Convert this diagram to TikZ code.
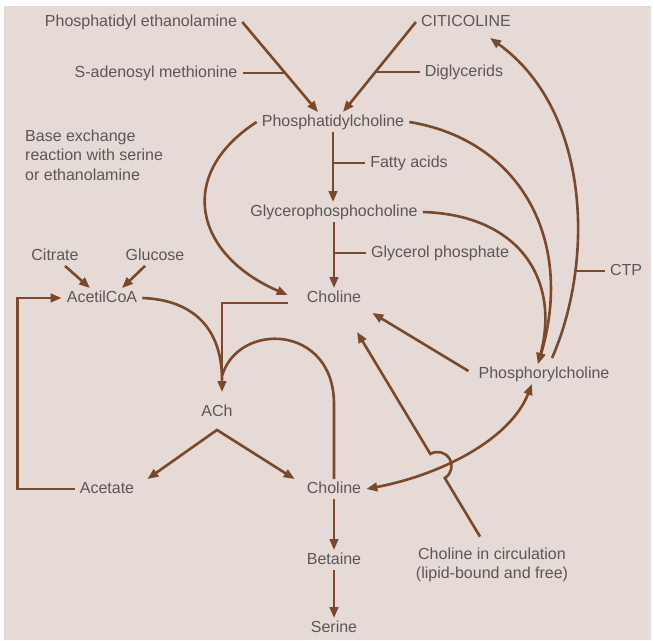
\documentclass[tikz,border=0pt]{standalone}
\usepackage{fontspec}
\setmainfont{Liberation Sans}
\usetikzlibrary{positioning}
\usetikzlibrary{calc}
\usetikzlibrary{arrows.meta}

\definecolor{paper}{RGB}{229,218,213}
\definecolor{brn}{RGB}{122,72,42}
\definecolor{txt}{RGB}{88,88,88}

\begin{document}
\begin{tikzpicture}[x=1pt,y=1pt,
  note/.style={text=txt,font=\fontsize{16}{19.5}\selectfont,inner xsep=5pt,inner ysep=2pt},
  lbl/.style={note,text height=12pt,text depth=3.5pt},
  feed/.style={draw=brn,line width=2.6pt},
  flow/.style={feed,-{Triangle[length=11pt,width=8.5pt]}},
  both/.style={feed,{Triangle[length=11pt,width=8.5pt]}-{Triangle[length=11pt,width=8.5pt]}}]

\useasboundingbox (0,0) rectangle (653,-640);
\fill[white] (0,0) rectangle (653,-640);
\fill[paper] (4,-6) rectangle (651,-640);

% names
\node[lbl] (pe)   at (141,-22)  {Phosphatidyl ethanolamine};
\node[lbl] (sam)  at (156,-73)  {S-adenosyl methionine};
\node[lbl] (cit)  at (466,-22)  {CITICOLINE};
\node[lbl] (dig)  at (464,-72)  {Diglycerids};
\node[lbl] (pc)   at (333,-122) {Phosphatidylcholine};
\node[note,align=left,anchor=west] (bex) at (20,-155)
  {Base exchange\\reaction with serine\\or ethanolamine};
\node[lbl] (fa)   at (409,-163) {Fatty acids};
\node[lbl] (gpc)  at (334,-212) {Glycerophosphocholine};
\node[lbl] (gp)   at (440,-253) {Glycerol phosphate};
\node[lbl] (citr) at (55,-256)  {Citrate};
\node[lbl] (glu)  at (155,-256) {Glucose};
\node[lbl] (acoa) at (102,-298) {AcetilCoA};
\node[lbl] (cho1) at (334,-298) {Choline};
\node[lbl] (ctp)  at (626,-271) {CTP};
\node[lbl] (phc)  at (544,-374) {Phosphorylcholine};
\node[lbl] (ach)  at (217,-412) {ACh};
\node[lbl] (ace)  at (107,-489) {Acetate};
\node[lbl] (cho2) at (334,-489) {Choline};
\node[lbl] (bet)  at (334,-560) {Betaine};
\node[lbl] (ser)  at (334,-628) {Serine};
\node[note,align=center] (circ) at (492,-565)
  {Choline in circulation\\(lipid-bound and free)};

% top inputs
\draw[flow] (pe.east) -- ([xshift=-15pt]pc.north) coordinate[pos=0.56] (samj);
\draw[feed] (sam.east) -- (sam.east -| samj);
\draw[flow] (cit.west) -- ([xshift=10pt]pc.north) coordinate[pos=0.55] (digj);
\draw[feed] (dig.west) -- (dig.west -| digj);

% breakdown
\draw[flow] (pc.south) -- (pc.south |- gpc.north) coordinate[pos=0.45] (faj);
\draw[feed] (fa.west) -- (fa.west -| faj);
\draw[flow] (gpc.south) -- (cho1.north) coordinate[pos=0.47] (gpj);
\draw[feed] (gp.west) -- (gp.west -| gpj);
\draw[flow] (pc.west) .. controls (175,-175) and (195,-255) .. ([shift={(-14,3)}]cho1.west);

% phosphorylcholine
\coordinate (phin) at ([xshift=-6pt]phc.north);
\draw[flow] (pc.east) .. controls (520,-140) and (575,-240) .. (phin);
\draw[flow] (gpc.east) .. controls (520,-215) and (560,-280) .. (phin);
\draw[flow] ([shift={(8,6)}]phc.north) .. controls (595,-260) and (590,-110) ..
  ([shift={(24,-6)}]cit.south) coordinate[pos=0.27] (ctpj);
\draw[feed] (ctp.west) -- (ctp.west -| ctpj);
\draw[flow] ([shift={(-5,3)}]phc.west) -- ([shift={(6,-5)}]cho1.south east);
\draw[both] (cho2.east) .. controls (440,-475) and (510,-440) .. ([xshift=-12pt]phc.south);

% circulation, hopping over
\coordinate (crin) at ([shift={(-12,9)}]circ.north);
\coordinate (c1in) at ([shift={(23,-24)}]cho1.south);
\coordinate (hop) at ($(crin)!0.345!(c1in)$);
\draw[flow] (crin) -- ($(hop)!14pt!(crin)$) arc[start angle=-59,end angle=121,radius=14pt] -- (c1in);

% ACh cycle
\coordinate (achin) at ([shift={(5,10)}]ach.north);
\draw[feed] (acoa.east) .. controls (195,-300) and (222,-330) .. ([yshift=12pt]achin);
\draw[feed] (cho2.north) -- ++(0,75) .. controls +(0,80) and +(16,55) .. ([yshift=16pt]achin);
\draw[flow] ([shift={(-14,-5)}]cho1.west) -| (achin);
\draw[both] ([xshift=8pt]ace.north east) -- ([yshift=-8pt]ach.south) -- ([xshift=-7pt]cho2.north west);
\draw[flow] (ace.west) -- ++(-57,0) |- (acoa.west);
\draw[flow] ([xshift=10pt]citr.south) -- ([xshift=-12pt]acoa.north);
\draw[flow] ([xshift=-10pt]glu.south) -- ([xshift=20pt]acoa.north);

% down to serine
\draw[flow] (cho2.south) -- (bet.north);
\draw[flow] (bet.south) -- (ser.north);

\end{tikzpicture}
\end{document}
